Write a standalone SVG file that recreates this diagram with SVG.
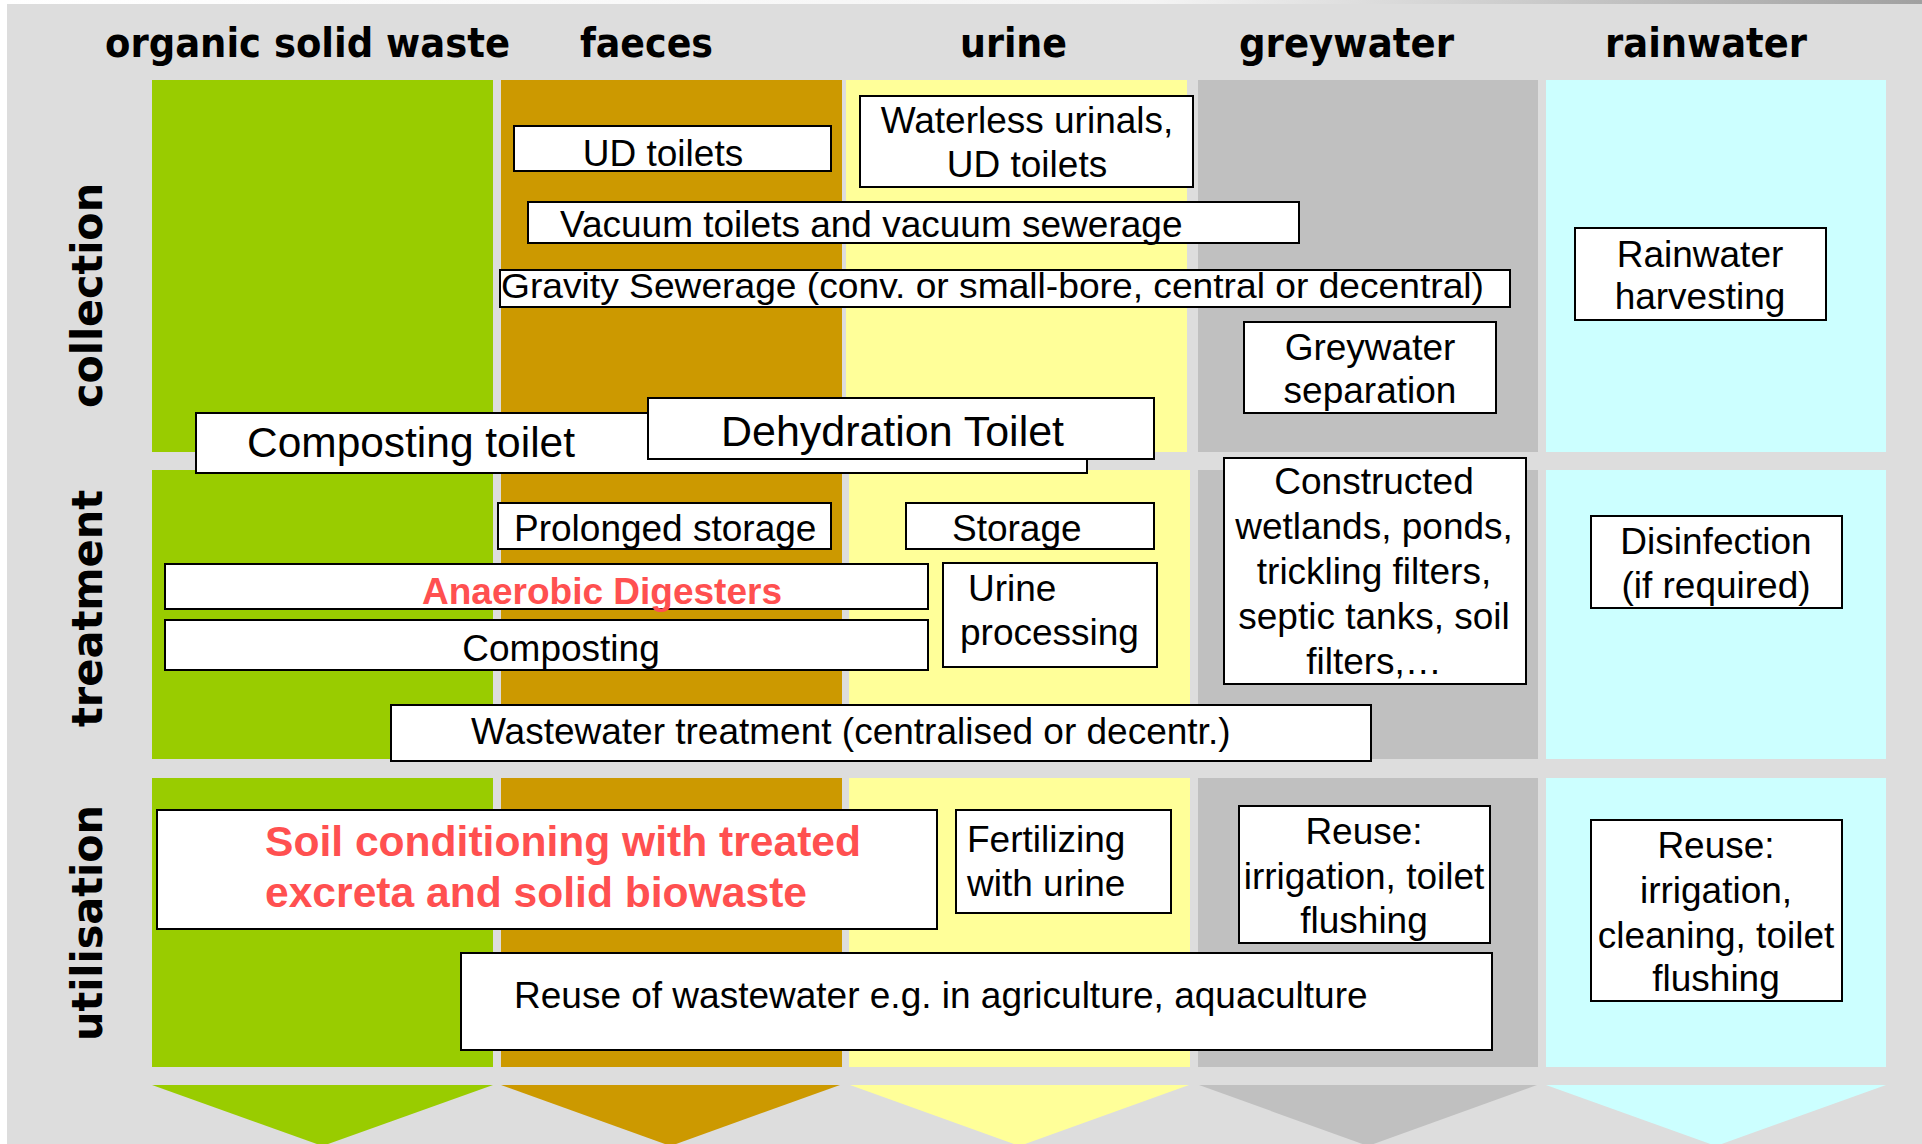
<svg xmlns="http://www.w3.org/2000/svg" width="1922" height="1144" viewBox="0 0 1922 1144">
<defs>
<linearGradient id="topg" x1="0" y1="0" x2="1" y2="0">
<stop offset="0" stop-color="#ffffff"/>
<stop offset="0.6" stop-color="#f4f4f4"/>
<stop offset="1" stop-color="#a0a0a0"/>
</linearGradient>
<style>
.hdr{font-family:'DejaVu Sans Condensed','DejaVu Sans',sans-serif;font-weight:bold;font-size:41px;fill:#000}
.row{font-family:'DejaVu Sans','Verdana',sans-serif;font-weight:bold;font-size:42px;fill:#000}
.box{fill:#fff;stroke:#000;stroke-width:2}
.t{font-family:'Liberation Sans',Arial,sans-serif;font-size:37px;fill:#000}
.big{font-size:42px}
.red{font-family:'Liberation Sans',Arial,sans-serif;font-weight:bold;fill:#ff5050}
.c{text-anchor:middle}
.green{fill:#99cc00}.faeces{fill:#cc9900}.urine{fill:#ffff99}.grey{fill:#c0c0c0}.rain{fill:#ccffff}
</style>
</defs>
<rect x="0" y="0" width="1922" height="1144" fill="#ffffff"/>
<rect x="0" y="0" width="1922" height="4" fill="url(#topg)"/>
<rect x="7" y="4" width="1915" height="1140" fill="#dddddd"/>

<g id="headers">
<text class="hdr" x="105" y="57" textLength="405" lengthAdjust="spacingAndGlyphs">organic solid waste</text>
<text class="hdr" x="580" y="57" textLength="133" lengthAdjust="spacingAndGlyphs">faeces</text>
<text class="hdr" x="960" y="57" textLength="107" lengthAdjust="spacingAndGlyphs">urine</text>
<text class="hdr" x="1239" y="57" textLength="215" lengthAdjust="spacingAndGlyphs">greywater</text>
<text class="hdr" x="1605" y="57" textLength="202" lengthAdjust="spacingAndGlyphs">rainwater</text>
</g>

<g id="row-labels">
<text class="row c" transform="translate(102,295.5) rotate(-90)" textLength="225" lengthAdjust="spacingAndGlyphs">collection</text>
<text class="row c" transform="translate(102,608.5) rotate(-90)" textLength="237" lengthAdjust="spacingAndGlyphs">treatment</text>
<text class="row c" transform="translate(102,923) rotate(-90)" textLength="236" lengthAdjust="spacingAndGlyphs">utilisation</text>
</g>

<g id="columns">
<rect class="green" x="152" y="80" width="341" height="372"/>
<rect class="faeces" x="501" y="80" width="341" height="372"/>
<rect class="urine" x="846" y="80" width="341" height="372"/>
<rect class="grey" x="1198" y="80" width="340" height="372"/>
<rect class="rain" x="1546" y="80" width="340" height="372"/>

<rect class="green" x="152" y="470" width="341" height="289"/>
<rect class="faeces" x="501" y="470" width="341" height="289"/>
<rect class="urine" x="849" y="470" width="341" height="289"/>
<rect class="grey" x="1198" y="470" width="340" height="289"/>
<rect class="rain" x="1546" y="470" width="340" height="289"/>

<rect class="green" x="152" y="778" width="341" height="289"/>
<rect class="faeces" x="501" y="778" width="341" height="289"/>
<rect class="urine" x="849" y="778" width="341" height="289"/>
<rect class="grey" x="1198" y="778" width="340" height="289"/>
<rect class="rain" x="1546" y="778" width="340" height="289"/>
</g>

<g id="arrows">
<polygon class="green" points="152,1085 493,1085 322.5,1146"/>
<polygon class="faeces" points="501,1085 840,1085 670.5,1146"/>
<polygon class="urine" points="850,1085 1189,1085 1019.5,1146"/>
<polygon class="grey" points="1199,1085 1537,1085 1368,1146"/>
<polygon class="rain" points="1546,1085 1886,1085 1716,1146"/>
</g>

<g id="connectors"></g>

<g id="ud-toilets">
<rect class="box" x="514" y="126" width="317" height="45"/>
<text class="t" x="663" y="166" text-anchor="middle">UD toilets</text>
</g>
<g id="waterless-urinals">
<rect class="box" x="860" y="96" width="333" height="91"/>
<text class="t c" x="1027" y="133">Waterless urinals,</text>
<text class="t c" x="1027" y="177">UD toilets</text>
</g>
<g id="vacuum-toilets">
<rect class="box" x="528" y="202" width="771" height="41"/>
<text class="t" x="560" y="237">Vacuum toilets and vacuum sewerage</text>
</g>
<g id="gravity-sewerage">
<rect class="box" x="500" y="270" width="1010" height="37"/>
<text class="t" x="501" y="298" style="font-size:35px" textLength="983" lengthAdjust="spacingAndGlyphs">Gravity Sewerage (conv. or small-bore, central or decentral)</text>
</g>
<g id="greywater-separation">
<rect class="box" x="1244" y="322" width="252" height="91"/>
<text class="t c" x="1370" y="360">Greywater</text>
<text class="t c" x="1370" y="403">separation</text>
</g>
<g id="rainwater-harvesting">
<rect class="box" x="1575" y="228" width="251" height="92"/>
<text class="t c" x="1700" y="267">Rainwater</text>
<text class="t c" x="1700" y="309">harvesting</text>
</g>
<g id="composting-toilet">
<rect class="box" x="196" y="413" width="891" height="60"/>
<text class="t big" x="247" y="457" textLength="328" lengthAdjust="spacingAndGlyphs">Composting toilet</text>
</g>
<g id="dehydration-toilet">
<rect class="box" x="648" y="398" width="506" height="61"/>
<text class="t big" x="721" y="446" textLength="343" lengthAdjust="spacingAndGlyphs">Dehydration Toilet</text>
</g>

<g id="prolonged-storage">
<rect class="box" x="498" y="503" width="333" height="46"/>
<text class="t" x="514" y="541">Prolonged storage</text>
</g>
<g id="storage">
<rect class="box" x="906" y="503" width="248" height="46"/>
<text class="t" x="952" y="541">Storage</text>
</g>
<g id="anaerobic-digesters">
<rect class="box" x="165" y="564" width="763" height="45"/>
<text class="red" x="422" y="604" style="font-size:37px" textLength="360" lengthAdjust="spacingAndGlyphs">Anaerobic Digesters</text>
</g>
<g id="urine-processing">
<rect class="box" x="943" y="563" width="214" height="104"/>
<text class="t" x="968" y="601">Urine</text>
<text class="t" x="960" y="645">processing</text>
</g>
<g id="composting">
<rect class="box" x="165" y="620" width="763" height="50"/>
<text class="t c" x="561" y="661">Composting</text>
</g>
<g id="constructed-wetlands">
<rect class="box" x="1224" y="458" width="302" height="226"/>
<text class="t c" x="1374" y="494">Constructed</text>
<text class="t c" x="1374" y="539">wetlands, ponds,</text>
<text class="t c" x="1374" y="584">trickling filters,</text>
<text class="t c" x="1374" y="629">septic tanks, soil</text>
<text class="t c" x="1374" y="674">filters,…</text>
</g>
<g id="disinfection">
<rect class="box" x="1591" y="516" width="251" height="92"/>
<text class="t c" x="1716" y="554">Disinfection</text>
<text class="t c" x="1716" y="598">(if required)</text>
</g>
<g id="wastewater-treatment">
<rect class="box" x="391" y="705" width="980" height="56"/>
<text class="t" x="471" y="744">Wastewater treatment (centralised or decentr.)</text>
</g>

<g id="soil-conditioning">
<rect class="box" x="157" y="810" width="780" height="119"/>
<text class="red" x="265" y="856" style="font-size:42px" textLength="596" lengthAdjust="spacingAndGlyphs">Soil conditioning with treated</text>
<text class="red" x="265" y="907" style="font-size:42px" textLength="542" lengthAdjust="spacingAndGlyphs">excreta and solid biowaste</text>
</g>
<g id="fertilizing">
<rect class="box" x="956" y="810" width="215" height="103"/>
<text class="t" x="967" y="852">Fertilizing</text>
<text class="t" x="967" y="896">with urine</text>
</g>
<g id="greywater-reuse">
<rect class="box" x="1239" y="806" width="251" height="137"/>
<text class="t c" x="1364" y="844">Reuse:</text>
<text class="t c" x="1364" y="889">irrigation, toilet</text>
<text class="t c" x="1364" y="933">flushing</text>
</g>
<g id="rainwater-reuse">
<rect class="box" x="1591" y="820" width="251" height="181"/>
<text class="t c" x="1716" y="858">Reuse:</text>
<text class="t c" x="1716" y="903">irrigation,</text>
<text class="t c" x="1716" y="948">cleaning, toilet</text>
<text class="t c" x="1716" y="991">flushing</text>
</g>
<g id="reuse-wastewater">
<rect class="box" x="461" y="953" width="1031" height="97"/>
<text class="t" x="514" y="1008">Reuse of wastewater e.g. in agriculture, aquaculture</text>
</g>
</svg>
